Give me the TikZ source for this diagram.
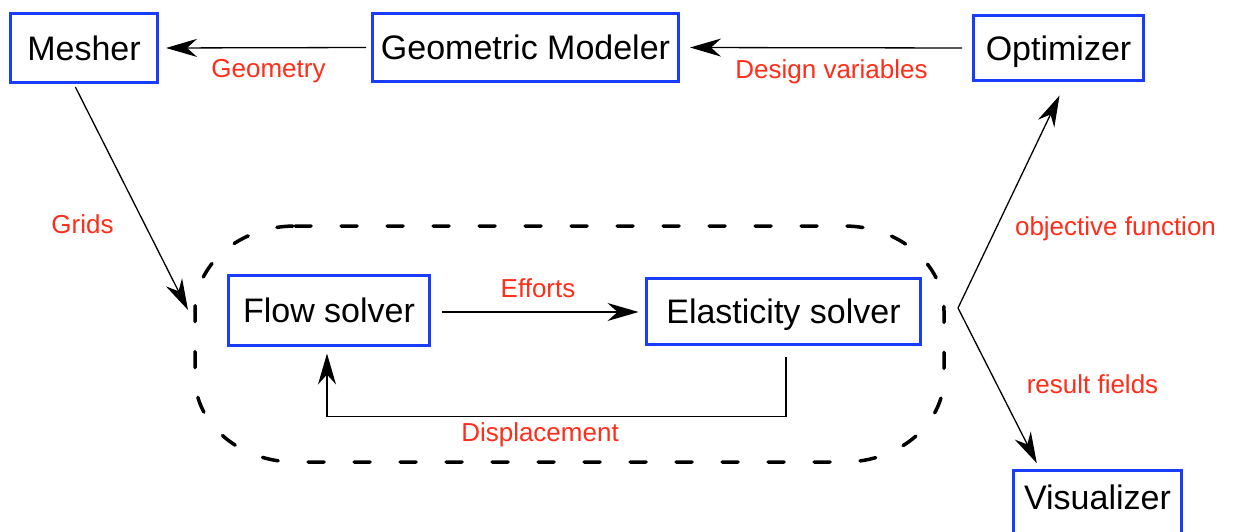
\documentclass[tikz,border=0pt]{standalone}
\usepackage{fontspec}
\setmainfont{Liberation Sans}
\usetikzlibrary{arrows.meta}
\definecolor{boxblue}{RGB}{25,60,255}
\definecolor{labred}{RGB}{255,45,25}

\begin{document}
\begin{tikzpicture}[x=1pt,y=-1pt,
  module/.style={draw=boxblue, line width=3pt, inner sep=0pt,
    font=\fontsize{34}{38}\selectfont, text height=24.5pt, text depth=0pt},
  flowlabel/.style={text=labred, font=\fontsize{26}{30}\selectfont,
    anchor=base, inner sep=0pt},
  arr/.style={line width=1.3pt, -{Stealth[length=31pt,width=18pt,inset=10pt]}},
  group/.style={line width=3.5pt, dash pattern=on 16pt off 30pt, line cap=round}
]
% page frame
\clip (0,0) rectangle (1236,532);
\fill[white] (0,0) rectangle (1236,532);

% modules
\node[module, minimum width=147pt, minimum height=69.6pt] (mesher) at (84,48) {Mesher};
\node[module, minimum width=306pt, minimum height=68pt] (gm) at (525.5,47.5) {Geometric Modeler};
\node[module, minimum width=170pt, minimum height=65pt] (opt) at (1058.5,48) {Optimizer};
\node[module, minimum width=201pt, minimum height=70pt] (flow) at (329,310.5) {Flow solver};
\node[module, minimum width=274pt, minimum height=66pt] (elas) at (783.5,311.5) {Elasticity solver};
\node[module, minimum width=168pt, anchor=north, text height=39.5pt, text depth=40pt] (vis) at (1097.5,468.5) {Visualizer};

% coupled solver group
\draw[group] (295,226) -- (844,226)
  arc[start angle=90, end angle=0, x radius=100pt, y radius=85pt] -- (944,377)
  arc[start angle=0, end angle=-90, x radius=100pt, y radius=85pt] -- (295,462)
  arc[start angle=270, end angle=180, x radius=100pt, y radius=85pt] -- (195,311)
  arc[start angle=180, end angle=90, x radius=100pt, y radius=85pt] -- cycle;

% data flow
\draw[arr, shorten <=5pt, shorten >=7pt] (gm.west) -- (mesher.east);
\node[flowlabel] (lgeo) at (268.5,78) {Geometry};

\draw[arr, shorten <=10pt, shorten >=10pt] (opt.west) -- (gm.east);
\node[flowlabel] (ldv) at (831.5,79) {Design variables};

\coordinate (gridtip) at (188,310);
\draw[arr, shorten <=3pt] ([xshift=-10pt]mesher.south) -- (gridtip);
\node[flowlabel] (lgrids) at (82.5,233) {Grids};

\draw[arr, shorten <=10.5pt, shorten >=6.5pt] ([yshift=-1.5pt]flow.east) -- ([yshift=-1.5pt]flow.east -| elas.west);
\node[flowlabel] (leff) at (538,297) {Efforts};

\draw[arr, shorten <=10.5pt, shorten >=6.5pt] ([xshift=2.5pt]elas.south) -- ++(0,70.5) -| ([xshift=-2pt]flow.south);
\node[flowlabel] (ldisp) at (540,441) {Displacement};

\coordinate (branch) at (958,308);
\draw[arr, shorten >=15pt] (branch) -- ([xshift=7.5pt]opt.south);
\draw[arr, shorten >=6pt] (branch) -- ([xshift=-58pt]vis.north);
\node[flowlabel] (lobj) at (1115.5,235) {objective function};
\node[flowlabel] (lres) at (1092.5,393) {result fields};
\end{tikzpicture}
\end{document}
